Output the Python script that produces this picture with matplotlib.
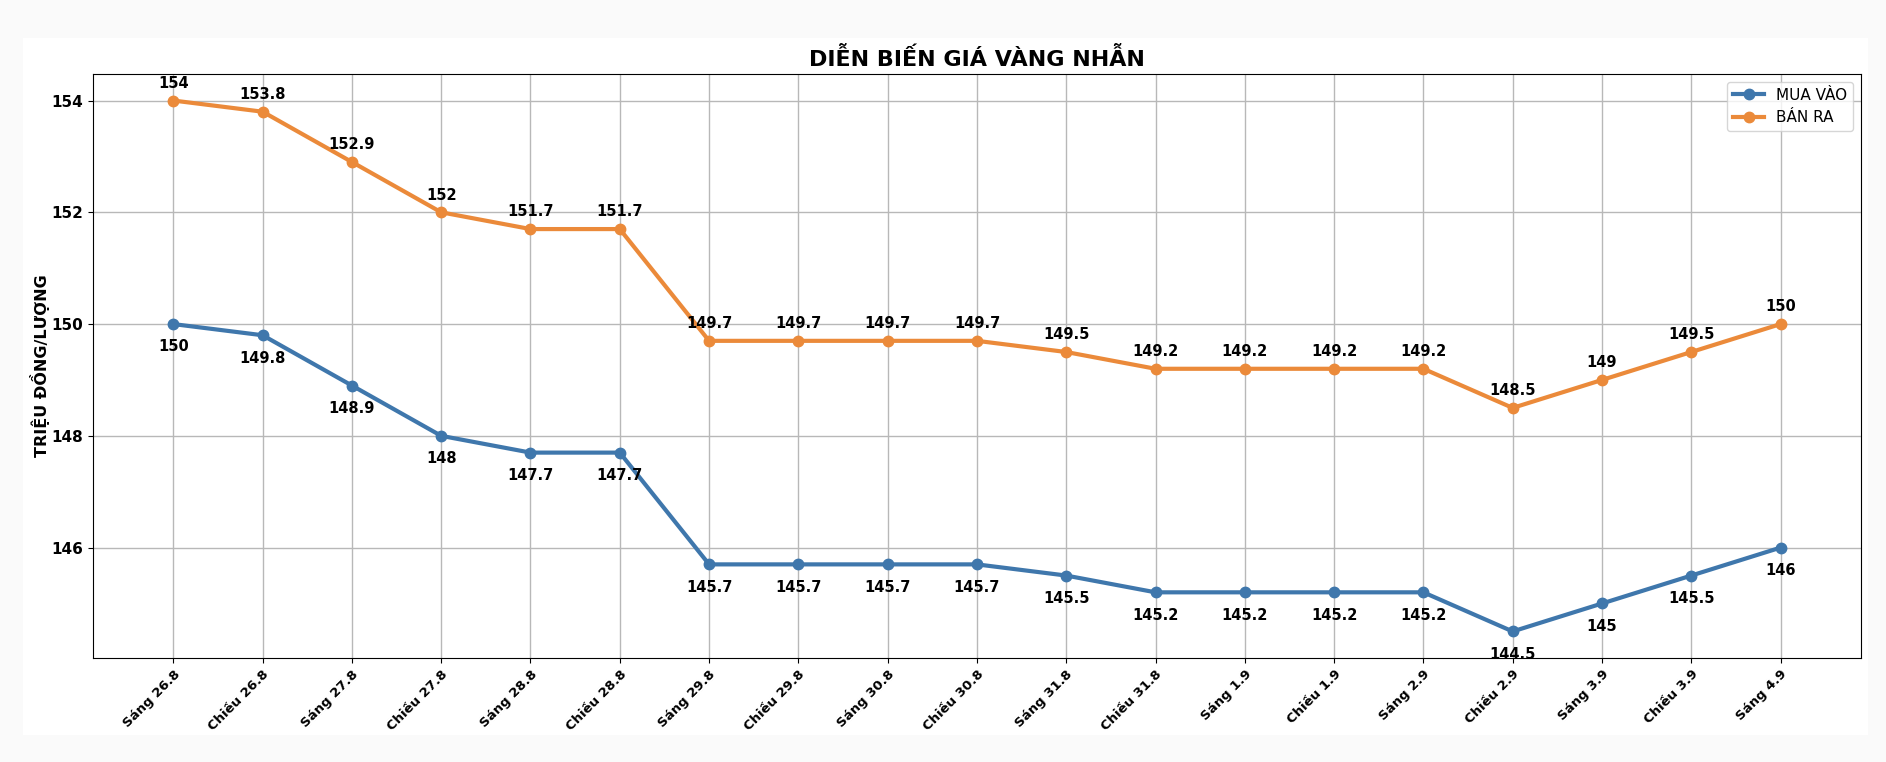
import matplotlib
matplotlib.use("Agg")
import matplotlib.pyplot as plt
from matplotlib.patches import Rectangle

# price data, trieu dong / luong
sessions = ["Sáng 26.8", "Chiều 26.8", "Sáng 27.8", "Chiều 27.8", "Sáng 28.8",
            "Chiều 28.8", "Sáng 29.8", "Chiều 29.8", "Sáng 30.8", "Chiều 30.8",
            "Sáng 31.8", "Chiều 31.8", "Sáng 1.9", "Chiều 1.9", "Sáng 2.9",
            "Chiều 2.9", "Sáng 3.9", "Chiều 3.9", "Sáng 4.9"]
mua_vao = [150, 149.8, 148.9, 148, 147.7, 147.7, 145.7, 145.7, 145.7, 145.7,
           145.5, 145.2, 145.2, 145.2, 145.2, 144.5, 145, 145.5, 146]
ban_ra = [154, 153.8, 152.9, 152, 151.7, 151.7, 149.7, 149.7, 149.7, 149.7,
          149.5, 149.2, 149.2, 149.2, 149.2, 148.5, 149, 149.5, 150]

blue = "#3f77ac"
orange = "#eb8a3a"

fig = plt.figure(figsize=(18.86, 7.62), dpi=100, facecolor="#fafafa")
fig.patches.append(Rectangle((0.0122, 0.0354), 0.9783, 0.9146, transform=fig.transFigure,
                             facecolor="white", edgecolor="none", zorder=-10))
ax = fig.add_axes([0.0493, 0.1365, 0.9374, 0.7664])

x = list(range(len(sessions)))
ax.plot(x, mua_vao, color=blue, lw=3, marker="o", ms=7.5, label="MUA VÀO")
ax.plot(x, ban_ra, color=orange, lw=3, marker="o", ms=7.5, label="BÁN RA")

def fmt(v):
    return f"{v:g}"

for i in x:
    ax.annotate(fmt(ban_ra[i]), (i, ban_ra[i]), xytext=(0, 7), textcoords="offset points",
                ha="center", va="bottom", fontsize=10.5, fontweight="bold")
    ax.annotate(fmt(mua_vao[i]), (i, mua_vao[i]), xytext=(0, -11), textcoords="offset points",
                ha="center", va="top", fontsize=10.5, fontweight="bold")

ax.set_xticks(x)
ax.set_xticklabels(sessions, rotation=45, ha="right", rotation_mode="anchor",
                   fontsize=9.5, fontweight="bold")
ax.set_yticks([146, 148, 150, 152, 154])
for lab in ax.get_yticklabels():
    lab.set_fontweight("bold")
    lab.set_fontsize(11)

ax.set_title("DIỄN BIẾN GIÁ VÀNG NHẪN", fontsize=16, fontweight="bold", pad=6)
ax.set_ylabel("TRIỆU ĐỒNG/LƯỢNG", fontsize=11.5, fontweight="bold", labelpad=1)
ax.grid(True, color="#b8b8b8", lw=1.0)
ax.set_axisbelow(True)
ax.legend(loc="upper right", fontsize=11)

fig.savefig("out.png", dpi=100, facecolor=fig.get_facecolor())
